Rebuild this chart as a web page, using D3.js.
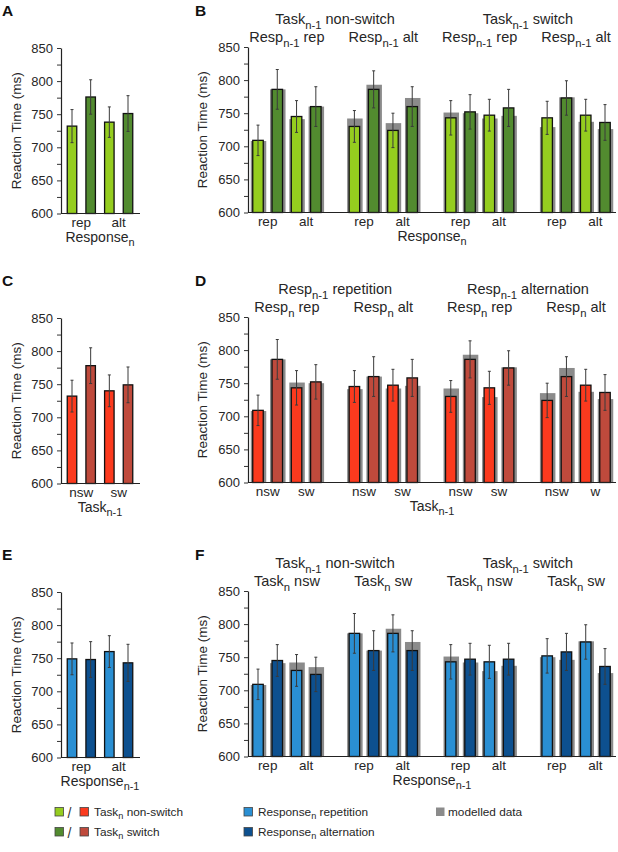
<!DOCTYPE html>
<html><head><meta charset="utf-8">
<script src="https://cdn.jsdelivr.net/npm/d3@7"></script>
<style>
html,body{margin:0;padding:0;background:#fff;}
svg{display:block;font-family:"Liberation Sans",Arial,sans-serif;}
text{white-space:pre;}
</style></head><body>
<svg id="chart" width="618" height="852"></svg>
<script>
// ---------- DATA ----------
const yTicks = [600, 650, 700, 750, 800, 850];

// Panel A (Response_n: rep/alt; colour = Task_n)
const catsA = ["rep", "alt"];
const rtA  = [732, 776, 738, 751];
const errA = [25, 26, 23, 27];

// Panel C (Task_n-1: nsw/sw; colour = Task_n)
const catsC = ["nsw", "sw"];
const rtC  = [732, 778, 740, 749];
const errC = [24, 27, 24, 27];

// Panel E (Response_n-1: rep/alt; colour = Response_n)
const catsE = ["rep", "alt"];
const rtE  = [749, 748, 760, 743];
const errE = [24, 27, 24, 28];

// Panel B
const headB1 = ["Task_{n-1} non-switch", "Task_{n-1} switch"];
const headB2 = ["Resp_{n-1} rep", "Resp_{n-1} alt", "Resp_{n-1} rep", "Resp_{n-1} alt"];
const catsB = ["rep", "alt", "rep", "alt", "rep", "alt", "rep", "alt"];
const rtB    = [709,786,745,760, 730,786,724,760, 743,752,747,758, 743,773,747,736];
const modelB = [708,786,741,760, 742,793,735,773, 751,750,742,746, 729,774,737,726];
const errB   = [23,30,24,30, 24,28,26,30, 26,26,24,28, 25,26,24,27];

// Panel D
const headD1 = ["Resp_{n-1} repetition", "Resp_{n-1} alternation"];
const headD2 = ["Resp_{n} rep", "Resp_{n} alt", "Resp_{n} rep", "Resp_{n} alt"];
const catsD = ["nsw", "sw", "nsw", "sw", "nsw", "sw", "nsw", "w"];
const rtD    = [709,786,743,752, 745,760,747,758, 730,786,743,773, 724,760,747,736];
const modelD = [708,786,751,750, 741,760,742,746, 742,793,729,774, 735,773,737,726];
const errD   = [23,30,26,26, 24,30,24,28, 24,28,25,26, 26,30,24,27];

// Panel F
const headF1 = ["Task_{n-1} non-switch", "Task_{n-1} switch"];
const headF2 = ["Task_{n} nsw", "Task_{n} sw", "Task_{n} nsw", "Task_{n} sw"];
const catsF = ["rep", "alt", "rep", "alt", "rep", "alt", "rep", "alt"];
const rtF    = [709,745,730,724, 786,760,786,760, 743,747,743,747, 752,758,773,736];
const modelF = [708,741,742,735, 786,760,793,773, 751,742,729,737, 750,746,774,726];
const errF   = [23,24,24,26, 30,30,28,30, 26,24,25,24, 26,28,26,27];

const green = ["#95cd1f", "#528b2f"];
const red   = ["#fb3a1e", "#bf4a3c"];
const blue  = ["#2a8fd3", "#0d508f"];
const modelColor = "#8b8b8b";

// ---------- HELPERS ----------
const svg = d3.select("#chart");
const TXT = "#262626";
const HEAD = 14.5, XLAB = 13.5, TITLE = 14;

function rich(g, str, x, y, size, anchor) {
  const t = g.append("text").attr("x", x).attr("y", y)
    .attr("font-size", size).attr("text-anchor", anchor || "middle").attr("fill", TXT);
  const parts = str.split(/(_\{[^}]*\})/);
  let shifted = false;
  parts.forEach(p => {
    if (!p) return;
    if (p.startsWith("_{")) {
      t.append("tspan").attr("dy", size * 0.32).attr("font-size", size * 0.78).text(p.slice(2, -1));
      shifted = true;
    } else {
      const ts = t.append("tspan").text(p);
      if (shifted) { ts.attr("dy", -size * 0.32); shifted = false; }
    }
  });
  return t;
}

function yAxis(g, y, x0, yTitleX) {
  const ax = d3.axisLeft(y).tickValues(d3.range(600, 851, 25)).tickSize(4).tickSizeOuter(0)
    .tickPadding(4).tickFormat(d => yTicks.includes(d) ? d : "");
  const a = g.append("g").attr("transform", `translate(${x0},0)`).call(ax);
  a.select(".domain").attr("stroke", "#222").attr("stroke-width", 1.2);
  a.selectAll(".tick line").attr("stroke", "#333");
  a.selectAll(".tick text").attr("font-size", 13).attr("fill", TXT)
    .attr("font-family", '"Liberation Sans",Arial,sans-serif');
  const ym = (y.range()[0] + y.range()[1]) / 2;
  g.append("text").attr("transform", `translate(${yTitleX},${ym}) rotate(-90)`)
    .attr("text-anchor", "middle").attr("font-size", 13.5).attr("fill", TXT)
    .text("Reaction Time (ms)");
}

function drawBars(g, xs, y, vals, errs, model, colors, bw) {
  const base = y(600);
  if (model) {
    g.selectAll(null).data(model).enter().append("rect")
      .attr("x", (d, i) => xs(i) - (bw + 5) / 2 + 0.5)
      .attr("y", d => y(d)).attr("width", bw + 5).attr("height", d => base - y(d))
      .attr("fill", modelColor);
  }
  g.selectAll(null).data(vals).enter().append("rect")
    .attr("x", (d, i) => xs(i) - bw / 2)
    .attr("y", d => y(d)).attr("width", bw).attr("height", d => base - y(d))
    .attr("fill", (d, i) => colors[i % 2]).attr("stroke", "#111").attr("stroke-width", 1.3);
  const eg = g.append("g").attr("stroke", "#3a3a3a").attr("stroke-width", 1);
  vals.forEach((v, i) => {
    const cx = xs(i);
    eg.append("line").attr("x1", cx).attr("x2", cx).attr("y1", y(v + errs[i])).attr("y2", y(v - errs[i]));
    eg.append("line").attr("x1", cx - 1.5).attr("x2", cx + 1.5).attr("y1", y(v + errs[i])).attr("y2", y(v + errs[i]));
    eg.append("line").attr("x1", cx - 1.5).attr("x2", cx + 1.5).attr("y1", y(v - errs[i])).attr("y2", y(v - errs[i]));
  });
}

function panelLetter(x, y, s) {
  svg.append("text").attr("x", x).attr("y", y).attr("font-size", 15.5).attr("font-weight", "bold")
    .attr("fill", "#111").text(s);
}

// ---------- SMALL PANELS ----------
function smallPanel(dy, letter, cats, vals, errs, colors, title) {
  const g = svg.append("g");
  const y = d3.scaleLinear().domain([600, 850]).range([213.5 + dy, 48 + dy]);
  const xs = d3.scaleLinear().domain([0, 3]).range([72, 128]);
  panelLetter(2, 16 + dy, letter);
  drawBars(g, xs, y, vals, errs, null, colors, 9.5);
  g.append("line").attr("x1", 61).attr("x2", 140).attr("y1", y(600)).attr("y2", y(600))
    .attr("stroke", "#222").attr("stroke-width", 1.2);
  yAxis(g, y, 61, 21);
  cats.forEach((c, k) => {
    g.append("text").attr("x", xs(k * 2 + 0.5)).attr("y", y(600) + 13).attr("text-anchor", "middle")
      .attr("font-size", XLAB).attr("fill", TXT).text(c);
  });
  rich(g, title, 100, y(600) + 28, TITLE, "middle");
}

smallPanel(0, "A", catsA, rtA, errA, green, "Response_{n}");
smallPanel(270, "C", catsC, rtC, errC, red, "Task_{n-1}");
smallPanel(544, "E", catsE, rtE, errE, blue, "Response_{n-1}");

// ---------- BIG PANELS ----------
function bigPanel(dy, letter, h1, h2, cats, vals, model, errs, colors, title) {
  const g = svg.append("g");
  const y = d3.scaleLinear().domain([600, 850]).range([212.5 + dy, 47 + dy]);
  const slot = d3.scaleLinear().domain([0, 18]).range([258, 605]);
  const xs = i => slot(Math.floor(i / 4) * 5 + (i % 4));
  panelLetter(195, 16 + dy, letter);
  drawBars(g, xs, y, vals, errs, model, colors, 10.5);
  g.append("line").attr("x1", 248).attr("x2", 616).attr("y1", y(600)).attr("y2", y(600))
    .attr("stroke", "#222").attr("stroke-width", 1.2);
  yAxis(g, y, 248, 207);
  cats.forEach((c, k) => {
    const gi = Math.floor(k / 2), off = (k % 2) * 2 + 0.5;
    g.append("text").attr("x", slot(gi * 5 + off)).attr("y", y(600) + 13).attr("text-anchor", "middle")
      .attr("font-size", XLAB).attr("fill", TXT).text(c);
  });
  rich(g, title, 432, y(600) + 28, TITLE, "middle");
  h1.forEach((h, k) => rich(g, h, slot(k * 10 + 4), 24 + dy, HEAD, "middle"));
  h2.forEach((h, k) => rich(g, h, slot(k * 5 + 1.5), 42 + dy, HEAD, "middle"));
}

bigPanel(0, "B", headB1, headB2, catsB, rtB, modelB, errB, green, "Response_{n}");
bigPanel(270, "D", headD1, headD2, catsD, rtD, modelD, errD, red, "Task_{n-1}");
bigPanel(544, "F", headF1, headF2, catsF, rtF, modelF, errF, blue, "Response_{n-1}");

// ---------- LEGEND ----------
const lg = svg.append("g");
const sq = 8.5;
function square(x, y, c) {
  lg.append("rect").attr("x", x).attr("y", y).attr("width", sq).attr("height", sq)
    .attr("fill", c).attr("stroke", "#444").attr("stroke-width", 0.8);
}
const legendRows = [807.5, 827.5];
square(55, legendRows[0], green[0]); square(80, legendRows[0], red[0]);
square(55, legendRows[1], green[1]); square(80, legendRows[1], red[1]);
[0, 1].forEach(r => lg.append("text").attr("x", 69.5).attr("y", legendRows[r] + 10)
  .attr("text-anchor", "middle").attr("font-size", 14).attr("fill", "#333").text("/"));
const LEG = 11.8;
rich(lg, "Task_{n} non-switch", 94, legendRows[0] + 8, LEG, "start");
rich(lg, "Task_{n} switch", 94, legendRows[1] + 8, LEG, "start");
square(244, legendRows[0], blue[0]);
square(244, legendRows[1], blue[1]);
rich(lg, "Response_{n} repetition", 258, legendRows[0] + 8, LEG, "start");
rich(lg, "Response_{n} alternation", 258, legendRows[1] + 8, LEG, "start");
lg.append("rect").attr("x", 436).attr("y", legendRows[0]).attr("width", sq).attr("height", sq).attr("fill", modelColor);
rich(lg, "modelled data", 448, legendRows[0] + 8, LEG, "start");
</script>
</body></html>
